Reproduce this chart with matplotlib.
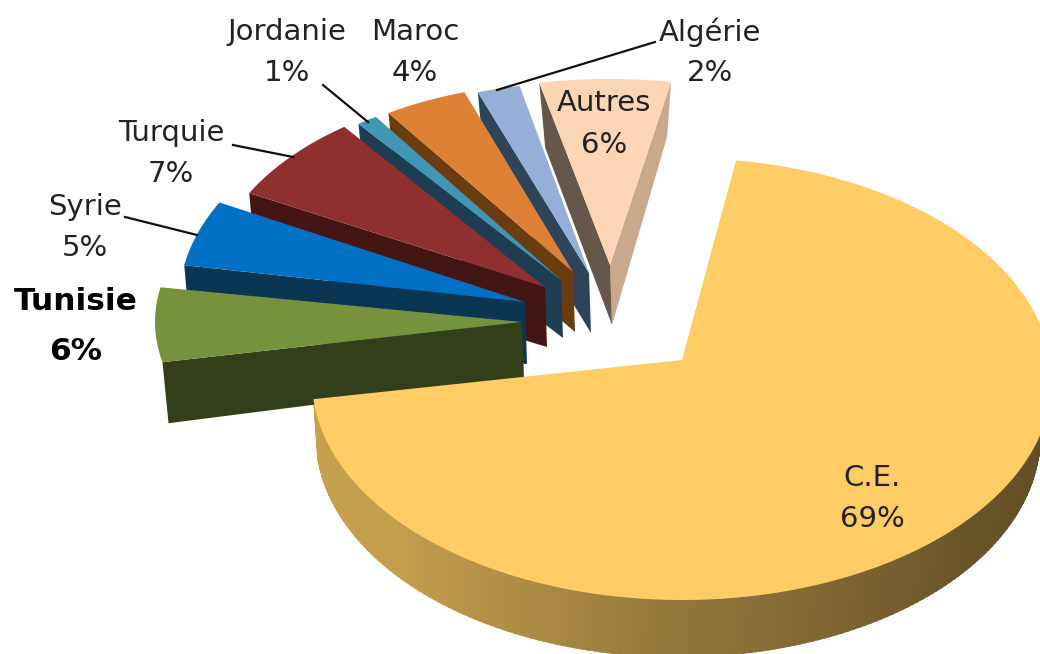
import numpy as np
import matplotlib
matplotlib.use('Agg')
import matplotlib.pyplot as plt
from matplotlib.patches import Polygon

# Shares in %, going counter-clockwise from the top
names = ['Autres', 'Algérie', 'Maroc', 'Jordanie', 'Turquie', 'Syrie', 'Tunisie', 'C.E.']
values = [6, 2, 4, 1, 7, 5, 6, 69]
start_angle = 80

# Slice colours: top face, lower side face
top_colors = ['#fcd5b5', '#95afd9', '#dd8234', '#3f97b3', '#8f2f2f', '#0070c4', '#76923c', '#ffcc66']
side_colors = ['#66574a', '#2e4459', '#6a3c10', '#1d3d52', '#431513', '#0b3653', '#333f1a', '#5f4d27']

# Layout per slice in image pixels: apex x, apex y, radius x, radius y, depth
apex_x = [610, 589, 573, 561, 545, 525, 522]
apex_y = [265, 273, 272, 280, 287, 302, 322]
radius_x = [352, 345, 337, 338, 335, 346, 367]
radius_y = [186, 191, 190, 195, 200, 212, 200]
depth = [60, 60, 60, 58, 60, 62, 56]

# Label positions: name x, name y, percent y
label_x = [604, 710, 415, 287, 171, 85, 76, 872]
label_y = [103, 32, 32, 32, 133, 207, 302, 478]
pct_y = [145, 73, 73, 73, 174, 248, 352, 519]

# Leader lines
leaders = [((125, 217), (197, 235)), ((233, 145), (293, 157)),
           ((323, 85), (368, 122)), ((655, 42), (497, 90))]

rim_stops = [-175, -140, -110, -90, -40, 0]
rim_r = [0.78, 0.76, 0.66, 0.57, 0.42, 0.37]
rim_g = [0.63, 0.62, 0.53, 0.46, 0.33, 0.30]
rim_b = [0.30, 0.30, 0.26, 0.23, 0.16, 0.15]


def arc(cx, cy, rx, ry_up, ry_down, t1, t2, n=100):
    t = np.radians(np.linspace(t1, t2, n))
    s = np.sin(t)
    ry = np.where(s > 0, ry_up, ry_down)
    return cx + rx * np.cos(t), cy - ry * s


fig = plt.figure(figsize=(10.4, 6.54), dpi=100)
ax = fig.add_axes([0, 0, 1, 1])
ax.set_xlim(0, 1040)
ax.set_ylim(654, 0)
ax.axis('off')

edges = start_angle + np.cumsum([0] + values) * 3.6

# C.E. is the big slice, apex sits above the ellipse centre so widen the sweep a bit
t1, t2 = edges[7] - 360 - 6.6, edges[0] + 1.6
rim_angles = np.linspace(t1, 0, 170)
for a, b in zip(rim_angles[:-1], rim_angles[1:]):
    xa, ya = arc(682, 380, 370, 222, 220, a, b + 0.3, 4)
    xb, yb = arc(678, 437, 362, 222, 220, a, b + 0.3, 4)
    color = (np.interp(a, rim_stops, rim_r), np.interp(a, rim_stops, rim_g), np.interp(a, rim_stops, rim_b))
    pts = list(zip(xa, ya)) + list(zip(xb[::-1], yb[::-1]))
    ax.add_patch(Polygon(pts, closed=True, fc=color, ec=color, lw=0.6, zorder=1))
xa, ya = arc(682, 380, 370, 222, 220, t1, t2)
ax.add_patch(Polygon([(682, 360)] + list(zip(xa, ya)), closed=True, fc=top_colors[7], ec='none', zorder=12))

# Exploded slices, from back to front
for i in range(7):
    z = 3 + i
    xs, ys = arc(apex_x[i], apex_y[i], radius_x[i], radius_y[i], radius_y[i], edges[i], edges[i + 1])
    cx, cy = apex_x[i], apex_y[i]
    d = depth[i]
    if i == 0:
        # Autres is the only one showing its right side
        right = [(xs[0], ys[0]), (cx, cy), (cx + 2, cy + d), (xs[0] - 4, ys[0] + 55)]
        ax.add_patch(Polygon(right, closed=True, fc='#c9a98b', ec='none', zorder=z))
    left = [(xs[-1], ys[-1]), (cx, cy), (cx + 2, cy + d), (xs[-1] + 6, ys[-1] + d + 5)]
    ax.add_patch(Polygon(left, closed=True, fc=side_colors[i], ec='none', zorder=z))
    ax.add_patch(Polygon([(cx, cy)] + list(zip(xs, ys)), closed=True, fc=top_colors[i], ec='none', zorder=z))

for p, q in leaders:
    ax.plot([p[0], q[0]], [p[1], q[1]], color='#111111', lw=1.6, zorder=20)

for i, name in enumerate(names):
    bold = name == 'Tunisie'
    kw = dict(ha='center', va='center', color='black' if bold else '#222222', zorder=21,
              fontsize=22.5 if bold else 21, fontweight='bold' if bold else 'normal')
    ax.text(label_x[i], label_y[i], name, **kw)
    ax.text(label_x[i], pct_y[i], f'{values[i]}%', **kw)

fig.savefig('out.png', dpi=100)
